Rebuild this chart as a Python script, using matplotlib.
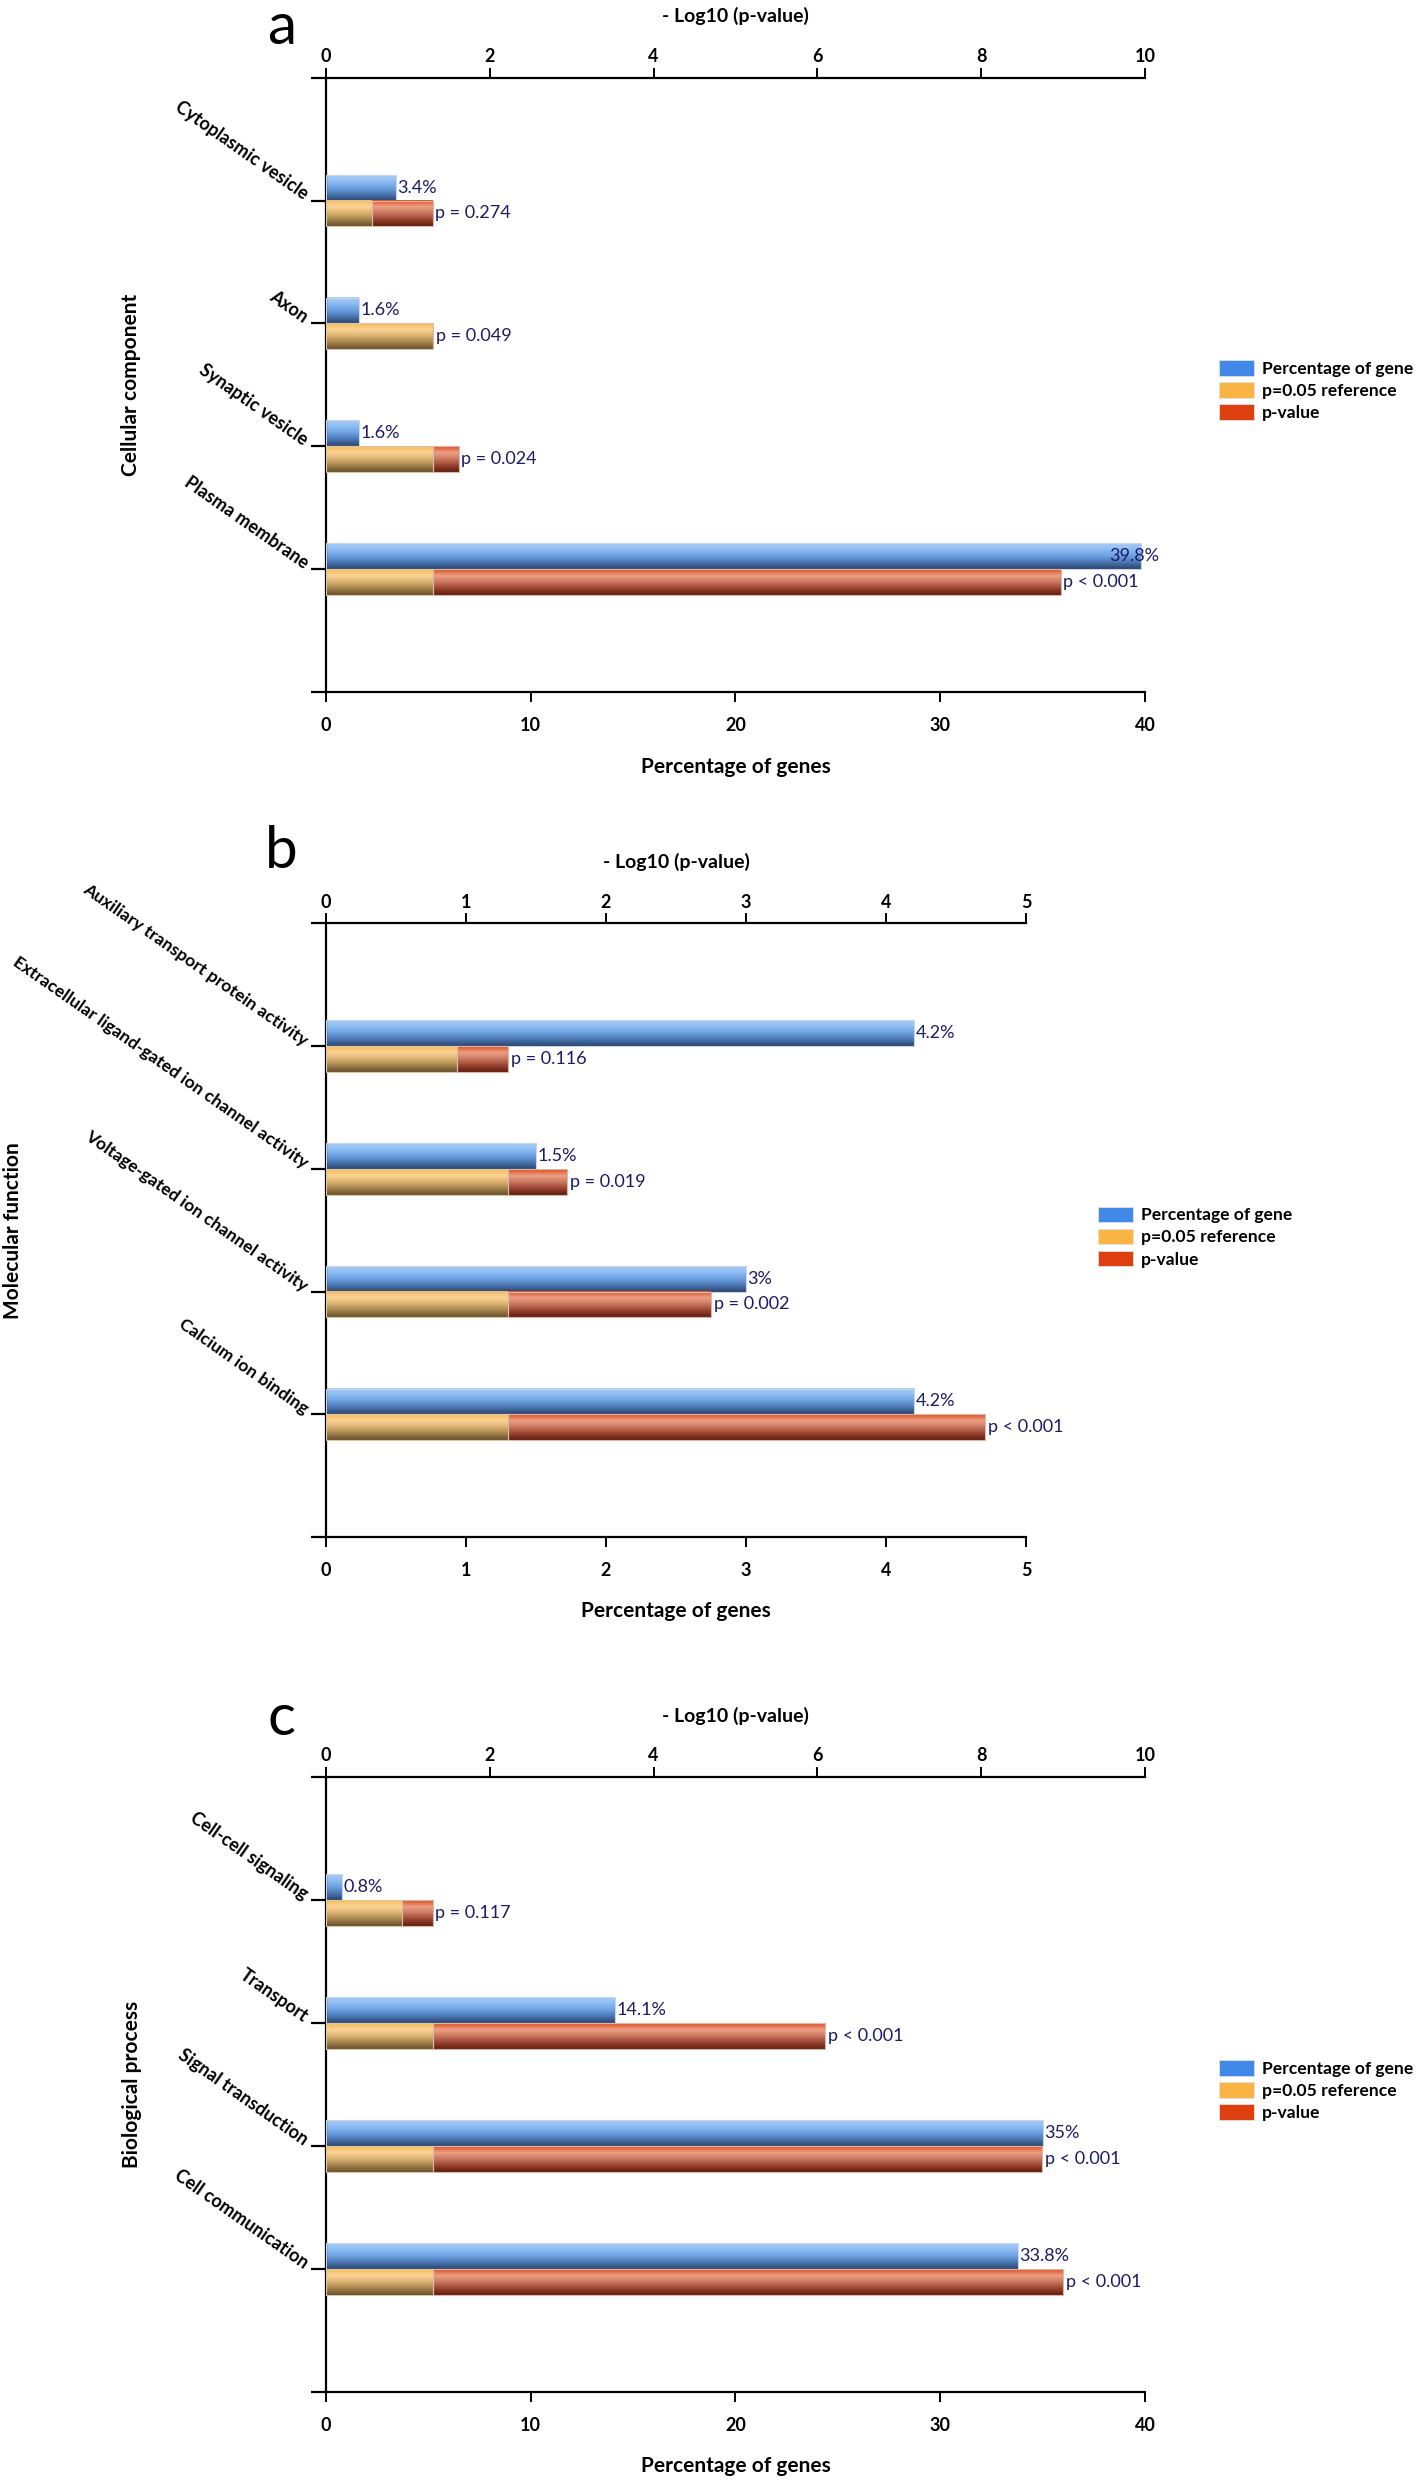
import numpy as np
import matplotlib
matplotlib.use("Agg")
import matplotlib.pyplot as plt
from matplotlib.colors import LinearSegmentedColormap
from matplotlib.patches import Patch

plt.rcParams['font.family'] = ['Lato', 'DejaVu Sans']

REF = 1.301  # -log10(0.05)

# a - cellular component
cc_terms = ['Cytoplasmic vesicle', 'Axon', 'Synaptic vesicle', 'Plasma membrane']
cc_pct = [3.4, 1.6, 1.6, 39.8]
cc_pct_lab = ['3.4%', '1.6%', '1.6%', '39.8%']
cc_logp = [0.562, 1.31, 1.62, 8.97]
cc_p_lab = ['p = 0.274', 'p = 0.049', 'p = 0.024', 'p < 0.001']

# b - molecular function
mf_terms = ['Auxiliary transport protein activity',
            'Extracellular ligand-gated ion channel activity',
            'Voltage-gated ion channel activity', 'Calcium ion binding']
mf_pct = [4.2, 1.5, 3.0, 4.2]
mf_pct_lab = ['4.2%', '1.5%', '3%', '4.2%']
mf_logp = [0.936, 1.72, 2.75, 4.71]
mf_p_lab = ['p = 0.116', 'p = 0.019', 'p = 0.002', 'p < 0.001']

# c - biological process
bp_terms = ['Cell-cell signaling', 'Transport', 'Signal transduction', 'Cell communication']
bp_pct = [0.8, 14.1, 35.0, 33.8]
bp_pct_lab = ['0.8%', '14.1%', '35%', '33.8%']
bp_logp = [0.932, 6.09, 8.74, 9.0]
bp_p_lab = ['p = 0.117', 'p < 0.001', 'p < 0.001', 'p < 0.001']

legend_labels = ['Percentage of gene', 'p=0.05 reference', 'p-value']

blue_cm = LinearSegmentedColormap.from_list('b', ['#a6cdf6', '#8dbbf2', '#6b9fe0', '#4a76b0', '#2c4570'])
orange_cm = LinearSegmentedColormap.from_list('o', ['#f7bb58', '#fdd497', '#d9b170', '#a3834c', '#6a502c'])
red_cm = LinearSegmentedColormap.from_list('r', ['#dd4f22', '#eda084', '#c87660', '#984330', '#631d0e'])
grad = np.linspace(0, 1, 64).reshape(-1, 1)

TXT = '#1b1b66'
H = 0.21


def shade(ax, bars, cmap):
    for p in bars:
        x, y, w, h = p.get_x(), p.get_y(), p.get_width(), p.get_height()
        if w <= 0:
            continue
        ax.imshow(grad, cmap=cmap, extent=(x, x + w, y, y + h), origin='upper',
                  aspect='auto', zorder=2, interpolation='bilinear')
        p.set_facecolor('none')
        p.set_zorder(3)


def panel(rect, terms, pct, pct_lab, logp, p_lab, pmax, tmax, pstep, tstep,
          letter, letter_y, title_y, xlab_y, ylab, ylab_x, leg_xy, cat_size=13,
          letter_va='baseline'):
    ax = fig.add_axes(rect)
    ax2 = ax.twiny()
    pos = np.arange(len(terms))[::-1].astype(float)

    ref_seg = np.minimum(logp, REF)
    top_val = np.maximum(logp, REF)
    red_seg = top_val - ref_seg

    b1 = ax.barh(pos + H / 2, pct, height=H, color='#4189e8', edgecolor='#c9d6e6', linewidth=0.8)
    b2 = ax2.barh(pos - H / 2, ref_seg, height=H, color='#fab444', edgecolor='#d8c8a8', linewidth=0.8)
    b3 = ax2.barh(pos - H / 2, red_seg, left=ref_seg, height=H, color='#dd3f0e', edgecolor='#d8b8a8', linewidth=0.8)
    shade(ax, b1, blue_cm)
    shade(ax2, b2, orange_cm)
    shade(ax2, b3, red_cm)

    for y, v, s in zip(pos, pct, pct_lab):
        if v > 0.95 * pmax:
            ax.annotate(s, xy=(pmax, y + H / 2), xytext=(10, 0), textcoords='offset points',
                        ha='right', va='center', fontsize=13, color=TXT, zorder=5)
        else:
            ax.annotate(s, xy=(v, y + H / 2), xytext=(1, 0), textcoords='offset points',
                        ha='left', va='center', fontsize=13, color=TXT, zorder=5)
    for y, v, s in zip(pos, top_val, p_lab):
        ax2.annotate(s, xy=(v, y - H / 2), xytext=(2, 0), textcoords='offset points',
                     ha='left', va='center', fontsize=13, color=TXT, zorder=5)

    ax.set_xlim(0, pmax)
    ax2.set_xlim(0, tmax)
    ax.set_ylim(-1, 4)
    ax.set_xticks(np.arange(0, pmax + 0.01, pstep))
    ax2.set_xticks(np.arange(0, tmax + 0.01, tstep))
    ax.set_xticklabels([f'{v:g}' for v in np.arange(0, pmax + 0.01, pstep)])
    ax2.set_xticklabels([f'{v:g}' for v in np.arange(0, tmax + 0.01, tstep)])
    ax.set_yticks([-1] + list(pos[::-1]) + [4])
    ax.set_yticklabels([''] + terms[::-1] + [''])

    for a in (ax, ax2):
        a.spines['right'].set_visible(False)
        for sp in a.spines.values():
            sp.set_linewidth(1.6)
    ax.spines['top'].set_visible(False)
    ax2.spines['left'].set_visible(False)
    ax2.spines['bottom'].set_visible(False)

    ax.tick_params(axis='x', direction='out', length=7, width=1.4, labelsize=13, pad=11)
    ax2.tick_params(axis='x', direction='out', length=7, width=1.4, labelsize=13, pad=2)
    ax.tick_params(axis='y', direction='out', length=10.5, width=1.6, labelsize=cat_size, pad=6)
    for t in ax.get_xticklabels() + ax2.get_xticklabels() + ax.get_yticklabels():
        t.set_fontweight('bold')
    for t in ax.get_yticklabels():
        t.set_rotation(-35)
        t.set_ha('right')
        t.set_va('baseline')
        t.set_rotation_mode('anchor')

    cx = rect[0] + rect[2] / 2
    cy = rect[1] + rect[3] / 2
    fig.text(0.198, letter_y, letter, fontsize=42, ha='center', va=letter_va)
    fig.text(cx, title_y, '- Log10 (p-value)', fontsize=14, fontweight='bold', ha='center', va='center')
    fig.text(cx, xlab_y, 'Percentage of genes', fontsize=15, fontweight='bold', ha='center', va='center')
    fig.text(ylab_x, cy, ylab, fontsize=15, fontweight='bold', rotation=90, ha='center', va='center')

    handles = [Patch(facecolor=c, edgecolor='#e0e0e0', linewidth=0.6)
               for c in ('#4189e8', '#fab444', '#dd3f0e')]
    fig.legend(handles, legend_labels, loc='center left', bbox_to_anchor=leg_xy,
               frameon=False, handlelength=2.0, handleheight=1.0,
               labelspacing=0.3, handletextpad=0.45, borderpad=0, borderaxespad=0,
               prop={'weight': 'bold', 'size': 12.6})


fig = plt.figure(figsize=(14.2, 24.81), dpi=100)

panel([0.2296, 0.7211, 0.5767, 0.2476], cc_terms, cc_pct, cc_pct_lab, cc_logp, cc_p_lab,
      40, 10, 10, 2, 'a', 0.9995, 0.9936, 0.6909, 'Cellular component', 0.0923, (0.8585, 0.8425),
      letter_va='top')
panel([0.2296, 0.3805, 0.4930, 0.2473], mf_terms, mf_pct, mf_pct_lab, mf_logp, mf_p_lab,
      5, 5, 1, 1, 'b', 0.6501, 0.6526, 0.3507, 'Molecular function', 0.0095, (0.7735, 0.5014),
      cat_size=12.6)
panel([0.2296, 0.0359, 0.5767, 0.2479], bp_terms, bp_pct, bp_pct_lab, bp_logp, bp_p_lab,
      40, 10, 10, 2, 'c', 0.3007, 0.3083, 0.0061, 'Biological process', 0.0930, (0.8585, 0.1574))

fig.savefig('out.png', dpi=100)
